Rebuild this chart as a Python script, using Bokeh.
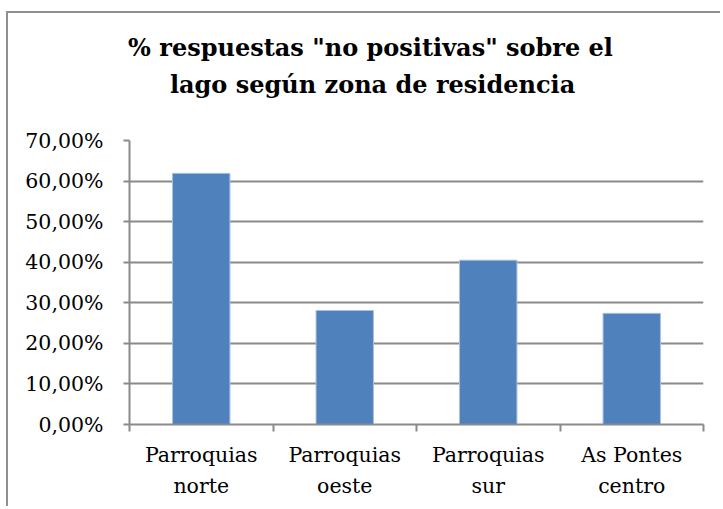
from bokeh.plotting import figure
from bokeh.models import (FactorRange, Range1d, LinearAxis, CategoricalAxis, FixedTicker,
                          CustomJSTickFormatter, Title, ColumnDataSource)
from bokeh.embed import file_html
from bokeh.resources import INLINE

title_lines = ['% respuestas "no positivas" sobre el', 'lago según zona de residencia']
categories = ["Parroquias\nnorte", "Parroquias\noeste", "Parroquias\nsur", "As Pontes\ncentro"]
values = [61.9, 28.1, 40.5, 27.4]
y_ticks = [0, 10, 20, 30, 40, 50, 60, 70]

GRAY = "#8a8a8a"
FONT = "DejaVu Serif"
NB = "\u00a0"

src = ColumnDataSource(data=dict(cat=categories, val=values))

p = figure(width=714, height=495, x_range=FactorRange(*categories), y_range=Range1d(0, 70),
           output_backend="svg", toolbar_location=None, x_axis_location=None,
           min_border_left=121, min_border_right=19, min_border_top=127, min_border_bottom=84,
           styles={"border-left": "2px solid #8f8f8f", "border-top": "2px solid #8f8f8f"})
p.margin = (11, 0, 0, 6)
p.outline_line_color = None
p.background_fill_color = "white"
p.border_fill_color = "white"

p.vbar(x="cat", top="val", width=0.4, source=src, fill_color="#4F81BD",
       line_color="#a9c0de", line_width=1)

# y axis
ya = p.yaxis[0]
ya.ticker = FixedTicker(ticks=y_ticks)
ya.formatter = CustomJSTickFormatter(code="return tick.toFixed(2).replace('.', ',') + '%';")
ya.axis_line_color = GRAY
ya.axis_line_width = 2
ya.major_tick_line_color = GRAY
ya.major_tick_line_width = 2
ya.major_tick_out = 6
ya.major_tick_in = 0
ya.minor_tick_line_color = None
ya.major_label_standoff = 20
ya.major_label_text_font = FONT
ya.major_label_text_font_size = "20.5px"
ya.major_label_text_color = "black"

p.ygrid.ticker = FixedTicker(ticks=y_ticks)
p.ygrid.grid_line_color = GRAY
p.ygrid.grid_line_width = 2
p.xgrid.grid_line_color = None

# boundary tick axis (x): ticks between categories (synthetic coordinates 0..n)
ta = LinearAxis(ticker=FixedTicker(ticks=list(range(len(categories) + 1))))
ta.formatter = CustomJSTickFormatter(code="return '';")
ta.axis_line_color = GRAY
ta.axis_line_width = 2
ta.major_tick_line_color = GRAY
ta.major_tick_line_width = 2
ta.major_tick_out = 7
ta.major_tick_in = 0
ta.minor_tick_line_color = None
ta.major_label_text_font_size = "1px"
ta.major_label_standoff = 0
p.add_layout(ta, "below")

ca = CategoricalAxis()
ca.axis_line_color = None
ca.major_tick_line_color = None
ca.major_label_standoff = 5
ca.major_label_text_font = FONT
ca.major_label_text_font_size = "20.5px"
ca.major_label_text_color = "black"
ca.major_label_text_line_height = 1.32
p.add_layout(ca, "below")

# title: two lines, centred over the whole chart area rather than the frame
title_text = title_lines[0] + NB * 11 + "\n" + NB * 5 + title_lines[1] + "\n" + NB
t = Title(text=title_text, align="center", standoff=7,
          text_font=FONT, text_font_style="bold", text_font_size="24px", text_color="black",
          text_line_height=1.3)
p.add_layout(t, "above")

open("out.html", "w").write(file_html(p, INLINE))
